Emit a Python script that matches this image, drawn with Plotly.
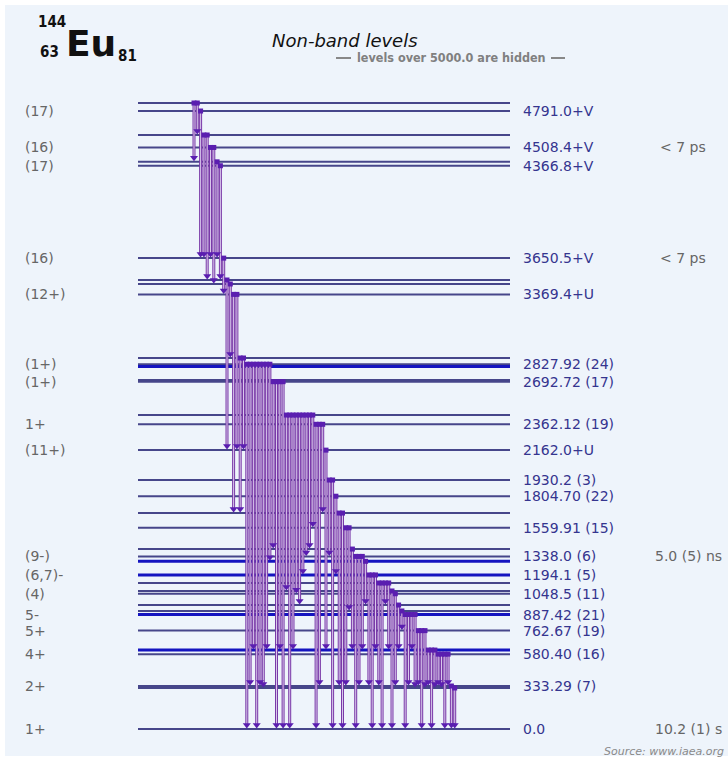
import plotly.graph_objects as go

# ---------------- data ----------------
# level energies (keV) drawn in the scheme (labelled + unlabelled)
level_energies = [4853, 4791.0, 4605, 4508.4, 4397, 4366.8, 3650.5, 3481, 3450, 3369.4,
                  2876, 2827.92, 2810, 2705, 2692.72, 2434, 2362.12, 2162.0, 1930.2, 1804.70,
                  1674, 1559.91, 1395, 1338.0, 1300, 1194.1, 1132, 1070, 1048.5, 961,
                  915, 887.42, 762.67, 612, 580.40, 333.29, 318, 0.0]
strong_levels = [2810, 1300, 1194.1, 887.42, 612]

label_energies = [4791.0, 4508.4, 4366.8, 3650.5, 3369.4, 2827.92, 2692.72, 2362.12, 2162.0,
                  1930.2, 1804.70, 1559.91, 1338.0, 1194.1, 1048.5, 887.42, 762.67, 580.40,
                  333.29, 0.0]
label_texts = ["4791.0+V", "4508.4+V", "4366.8+V", "3650.5+V", "3369.4+U", "2827.92 (24)",
               "2692.72 (17)", "2362.12 (19)", "2162.0+U", "1930.2 (3)", "1804.70 (22)",
               "1559.91 (15)", "1338.0 (6)", "1194.1 (5)", "1048.5 (11)", "887.42 (21)",
               "762.67 (19)", "580.40 (16)", "333.29 (7)", "0.0"]

spin_energies = [4791.0, 4508.4, 4366.8, 3650.5, 3369.4, 2827.92, 2692.72, 2362.12, 2162.0,
                 1338.0, 1194.1, 1048.5, 887.42, 762.67, 580.40, 333.29, 0.0]
spin_texts = ["(17)", "(16)", "(17)", "(16)", "(12+)", "(1+)", "(1+)", "1+", "(11+)",
              "(9-)", "(6,7)-", "(4)", "5-", "5+", "4+", "2+", "1+"]

halflife_energies = [4508.4, 3650.5, 1338.0, 0.0]
halflife_texts = ["&lt; 7 ps", "&lt; 7 ps", "5.0 (5) ns", "10.2 (1) s"]

# gamma transitions (initial level, final level), in drawing order
gammas = [
    (4853, 4397), (4853, 4605),
    (4791.0, 3650.5),
    (4605, 3650.5), (4605, 3481),
    (4508.4, 3650.5), (4508.4, 3450),
    (4397, 3650.5),
    (4366.8, 3481),
    (3650.5, 3369.4),
    (3481, 2162.0),
    (3450, 2876),
    (3369.4, 1674), (3369.4, 2162.0),
    (2876, 1674), (2876, 2162.0),
    (2827.92, 0.0), (2827.92, 333.29), (2827.92, 612), (2827.92, 0.0), (2827.92, 333.29),
    (2827.92, 318), (2827.92, 612), (2827.92, 1300),
    (2692.72, 1395), (2692.72, 0.0), (2692.72, 612), (2692.72, 0.0),
    (2434, 1070), (2434, 0.0), (2434, 612), (2434, 1048.5), (2434, 961), (2434, 1194.1),
    (2434, 1338.0), (2434, 1395), (2434, 1559.91),
    (2362.12, 0.0), (2362.12, 333.29), (2362.12, 1674),
    (2162.0, 612),
    (1930.2, 1338.0), (1930.2, 0.0),
    (1804.70, 1194.1),
    (1674, 333.29), (1674, 0.0),
    (1559.91, 333.29), (1559.91, 915),
    (1395, 612),
    (1338.0, 0.0), (1338.0, 333.29), (1338.0, 612), (1300, 961),
    (1194.1, 333.29), (1194.1, 0.0), (1194.1, 612),
    (1132, 333.29), (1132, 0.0), (1132, 961), (1132, 612),
    (1070, 0.0), (1048.5, 333.29),
    (961, 612), (915, 762.67),
    (887.42, 0.0), (887.42, 333.29), (887.42, 612), (887.42, 318),
    (762.67, 333.29), (762.67, 0.0), (762.67, 318),
    (612, 333.29), (612, 0.0), (612, 318),
    (580.40, 333.29), (580.40, 318), (580.40, 0.0), (580.40, 333.29),
    (333.29, 0.0), (318, 0.0),
]

# ---------------- layout constants ----------------
W, H = 728, 761
PX_PER_KEV = 0.12899
Y_ZERO_PX = 729
E_TOP = Y_ZERO_PX / PX_PER_KEV
E_BOT = (Y_ZERO_PX - H) / PX_PER_KEV
LINE_X0, LINE_X1 = 138, 510
GX0, GDX = 194, 3.3
HEAD_OFF = 4 / PX_PER_KEV

BG = "#eef4fb"
LEVEL_COL = "#46468a"
STRONG_COL = "#1414c0"
G_COL = "#7a3aa8"
G_INNER = "#d8c8ec"
HEAD_COL = "#5a1eb0"
LBL_COL = "#35358f"
GRAY = "#666666"
FONT = "DejaVu Sans"

fig = go.Figure()

def seg_xy(energies):
    xs, ys = [], []
    for e in energies:
        xs += [LINE_X0, LINE_X1, None]
        ys += [e, e, None]
    return xs, ys

normal = [e for e in level_energies if e not in strong_levels]
xs, ys = seg_xy(normal)
fig.add_trace(go.Scatter(x=xs, y=ys, mode="lines", line=dict(color=LEVEL_COL, width=2),
                         hoverinfo="skip", showlegend=False))
xs, ys = seg_xy(strong_levels)
fig.add_trace(go.Scatter(x=xs, y=ys, mode="lines", line=dict(color=STRONG_COL, width=3),
                         hoverinfo="skip", showlegend=False))

gx, gy, hx, hy, sx, sy = [], [], [], [], [], []
for i, (ei, ef) in enumerate(gammas):
    x = GX0 + i * GDX
    gx += [x, x, None]
    gy += [ei, ef + HEAD_OFF, None]
    hx.append(x); hy.append(ef + HEAD_OFF)
    sx.append(x); sy.append(ei)

fig.add_trace(go.Scatter(x=gx, y=gy, mode="lines", line=dict(color=G_COL, width=3),
                         hoverinfo="skip", showlegend=False))
fig.add_trace(go.Scatter(x=gx, y=gy, mode="lines", line=dict(color=G_INNER, width=1),
                         hoverinfo="skip", showlegend=False))
fig.add_trace(go.Scatter(x=hx, y=hy, mode="markers",
                         marker=dict(symbol="triangle-down", size=7, color=HEAD_COL, line=dict(width=0)),
                         hoverinfo="skip", showlegend=False))
fig.add_trace(go.Scatter(x=sx, y=sy, mode="markers",
                         marker=dict(symbol="square", size=5, color=HEAD_COL, line=dict(width=0)),
                         hoverinfo="skip", showlegend=False))

ann = []
for e, t in zip(label_energies, label_texts):
    ann.append(dict(x=522, y=e, xref="x", yref="y", text=t, showarrow=False, xanchor="left",
                    yanchor="middle", borderpad=0,
                    font=dict(family=FONT, size=14, color=LBL_COL)))
for e, t in zip(spin_energies, spin_texts):
    ann.append(dict(x=24, y=e, xref="x", yref="y", text=t, showarrow=False, xanchor="left",
                    yanchor="middle", borderpad=0,
                    font=dict(family=FONT, size=14, color=GRAY)))
for e, t in zip(halflife_energies, halflife_texts):
    xpos = 659 if "ps" in t else 654
    ann.append(dict(x=xpos, y=e, xref="x", yref="y", text=t, showarrow=False, xanchor="left",
                    yanchor="middle", borderpad=0,
                    font=dict(family=FONT, size=14, color=GRAY)))

def pxy(py):
    return (Y_ZERO_PX - py) / PX_PER_KEV

ann += [
    dict(x=345, y=pxy(40), xref="x", yref="y", text="<i>Non-band levels</i>", showarrow=False,
         font=dict(family=FONT, size=18, color="#111111")),
    dict(x=451, y=pxy(57), xref="x", yref="y", text="<b>levels over 5000.0 are hidden</b>",
         showarrow=False, font=dict(family="DejaVu Sans Condensed, DejaVu Sans", size=12.5, color="#808080")),
    dict(x=91, y=pxy(43), xref="x", yref="y", text="<b>Eu</b>", showarrow=False,
         font=dict(family=FONT, size=36, color="#111111")),
    dict(x=52, y=pxy(22), xref="x", yref="y", text="<b>144</b>", showarrow=False,
         font=dict(family="DejaVu Sans Condensed, DejaVu Sans", size=15, color="#111111")),
    dict(x=49, y=pxy(52), xref="x", yref="y", text="<b>63</b>", showarrow=False,
         font=dict(family="DejaVu Sans Condensed, DejaVu Sans", size=15, color="#111111")),
    dict(x=127, y=pxy(56), xref="x", yref="y", text="<b>81</b>", showarrow=False,
         font=dict(family="DejaVu Sans Condensed, DejaVu Sans", size=15, color="#111111")),
    dict(x=725, y=pxy(751), xref="x", yref="y", text="<i>Source: www.iaea.org</i>", showarrow=False,
         xanchor="right", borderpad=0, font=dict(family=FONT, size=11, color="#8a8a8a")),
]

shapes = [
    dict(type="rect", xref="x", yref="y", x0=5, x1=W + 5, y0=pxy(756), y1=pxy(5),
         fillcolor=BG, line=dict(width=0), layer="below"),
    dict(type="line", xref="x", yref="y", x0=336, x1=351, y0=pxy(58), y1=pxy(58),
         line=dict(color="#888888", width=2)),
    dict(type="line", xref="x", yref="y", x0=551, x1=565, y0=pxy(58), y1=pxy(58),
         line=dict(color="#888888", width=2)),
]

fig.update_layout(
    width=W, height=H, margin=dict(l=0, r=0, t=0, b=0),
    paper_bgcolor="white", plot_bgcolor="white",
    xaxis=dict(range=[0, W], visible=False, fixedrange=True),
    yaxis=dict(range=[E_BOT, E_TOP], visible=False, fixedrange=True),
    annotations=ann, shapes=shapes, showlegend=False,
)

fig.write_html("out.html", config={"displayModeBar": False},
               post_script="document.body.style.margin='0px';document.body.style.overflow='hidden';")
